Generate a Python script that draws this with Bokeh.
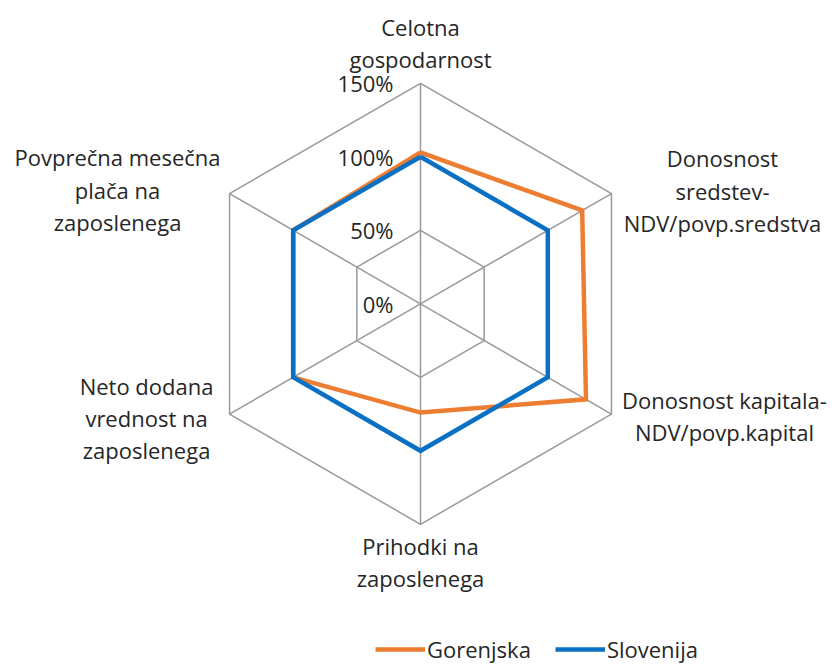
import numpy as np
from bokeh.plotting import figure
from bokeh.models import Range1d, Legend, LegendItem
from bokeh.core.properties import value
from bokeh.embed import file_html
from bokeh.resources import INLINE

# ---- data ----
categories = [
    "Celotna\ngospodarnost",
    "Donosnost\nsredstev-\nNDV/povp.sredstva",
    "Donosnost kapitala-\nNDV/povp.kapital",
    "Prihodki na\nzaposlenega",
    "Neto dodana\nvrednost na\nzaposlenega",
    "Povprečna mesečna\nplača na\nzaposlenega",
]
gorenjska = [103, 127, 130, 74, 100, 100]
slovenija = [100, 100, 100, 100, 100, 100]
ring_values = [0, 50, 100, 150]
ring_labels = ["0%", "50%", "100%", "150%"]
series_names = ["Gorenjska", "Slovenija"]

# ---- layout / style ----
W, H = 832, 666
PX = 1.47                      # pixels per percent
CX, CY = 420, 303.3            # centre in canvas px (from top-left)
FONT = "Open Sans"
FS = "22px"
TXT = "#262626"
GRID = "#999999"
ORANGE = "#ED7D31"
BLUE = "#0A70C4"

p = figure(width=W, height=H, output_backend="svg", toolbar_location=None,
           x_range=Range1d(-CX / PX, (W - CX) / PX),
           y_range=Range1d(-(H - CY) / PX, CY / PX),
           min_border=0)
p.axis.visible = False
p.grid.visible = False
p.outline_line_color = None
p.background_fill_color = "white"

n = len(categories)
theta = np.pi / 2 - np.arange(n) * 2 * np.pi / n
cos_t, sin_t = np.cos(theta), np.sin(theta)

# rings
rmax = ring_values[-1]
for r in ring_values[1:]:
    xs = list(r * cos_t) + [r * cos_t[0]]
    ys = list(r * sin_t) + [r * sin_t[0]]
    p.line(xs, ys, line_color=GRID, line_width=1.5)
# spokes
p.segment(x0=[0] * n, y0=[0] * n, x1=list(rmax * cos_t), y1=list(rmax * sin_t),
          line_color=GRID, line_width=1.5)

# series
def closed(vals):
    v = np.array(vals, dtype=float)
    xs = list(v * cos_t) + [v[0] * cos_t[0]]
    ys = list(v * sin_t) + [v[0] * sin_t[0]]
    return xs, ys

gx, gy = closed(gorenjska)
sx, sy = closed(slovenija)
r_g = p.line(gx, gy, line_color=ORANGE, line_width=4.5, line_join="miter")
r_s = p.line(sx, sy, line_color=BLUE, line_width=4.5, line_join="miter")

# ring labels (right aligned, left of top spoke)
p.text(x=[-27 / PX] * len(ring_values), y=ring_values, text=ring_labels,
       text_align="right", text_baseline="middle",
       text_font=value(FONT), text_font_size=FS, text_color=TXT)

# category labels: offset (px) from outer vertex
offsets = [(0, 40), (111, 3), (113, -2), (0, -38), (-83, -4), (-112, 4)]
lx = [rmax * cos_t[i] + offsets[i][0] / PX for i in range(n)]
ly = [rmax * sin_t[i] + offsets[i][1] / PX for i in range(n)]
p.text(x=lx, y=ly, text=categories, text_align="center", text_baseline="middle",
       text_font=value(FONT), text_font_size=FS, text_color=TXT,
       text_line_height=1.07)

legend = Legend(items=[LegendItem(label=series_names[0], renderers=[r_g]),
                       LegendItem(label=series_names[1], renderers=[r_s])],
                orientation="horizontal", location=(375, 2),
                glyph_width=50, glyph_height=20, label_standoff=2, spacing=24,
                padding=0, margin=0, border_line_alpha=0, background_fill_alpha=0,
                label_text_font=FONT, label_text_font_size=FS,
                label_text_color=TXT)
p.add_layout(legend)

open("out.html", "w").write(file_html(p, INLINE))
